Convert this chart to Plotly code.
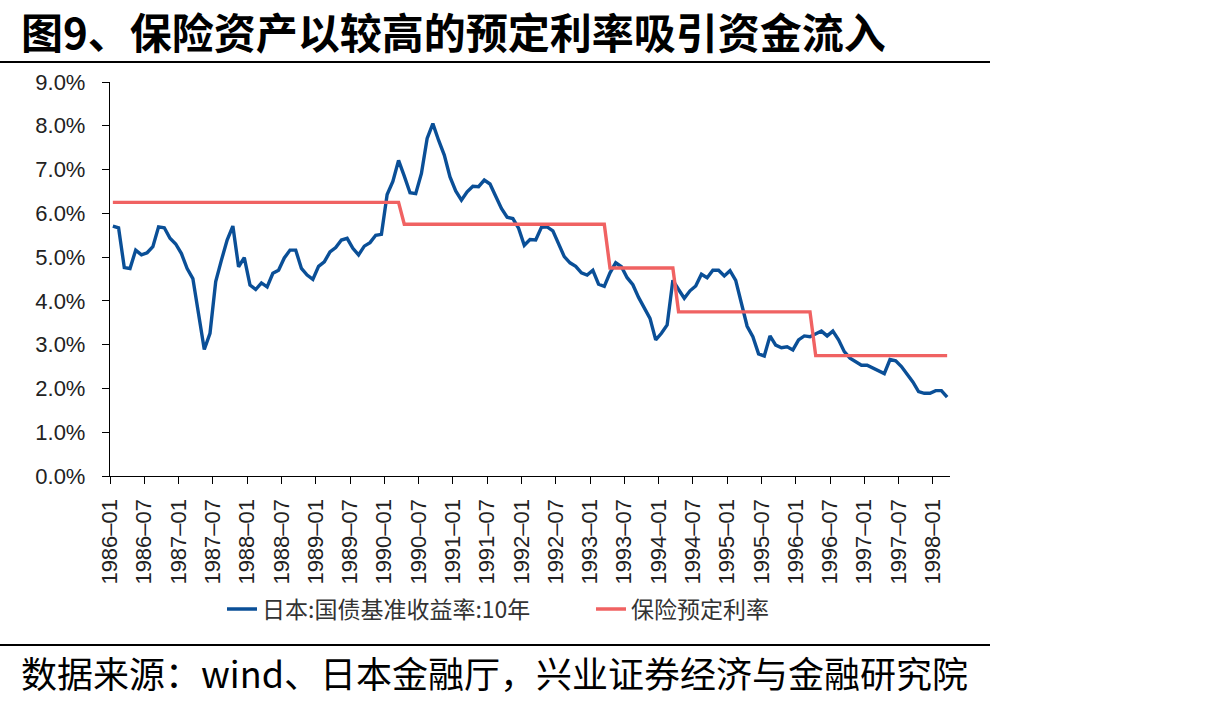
import numpy as np
import pandas as pd
import plotly.graph_objects as go

# ---------------- data ----------------
months = list(pd.period_range("1986-01", periods=147, freq="M").strftime("%Y–%m"))

yield_10y = [
    5.71, 5.67, 4.76, 4.74, 5.16, 5.05, 5.10, 5.24, 5.69, 5.67, 5.43, 5.30,
    5.08, 4.74, 4.51, 3.71, 2.89, 3.26, 4.44, 4.93, 5.39, 5.71, 4.78, 4.99,
    4.36, 4.26, 4.41, 4.32, 4.63, 4.70, 4.98, 5.16, 5.16, 4.74, 4.59, 4.49,
    4.79, 4.89, 5.12, 5.22, 5.39, 5.43, 5.20, 5.05, 5.25, 5.33, 5.50, 5.52,
    6.43, 6.73, 7.21, 6.85, 6.47, 6.45, 6.91, 7.71, 8.05, 7.67, 7.33, 6.83,
    6.51, 6.30, 6.49, 6.62, 6.61, 6.76, 6.67, 6.39, 6.11, 5.91, 5.88, 5.66,
    5.27, 5.40, 5.39, 5.68, 5.69, 5.60, 5.31, 5.01, 4.87, 4.79, 4.64, 4.59,
    4.70, 4.38, 4.33, 4.64, 4.87, 4.78, 4.53, 4.37, 4.08, 3.85, 3.60, 3.11,
    3.26, 3.45, 4.47, 4.26, 4.06, 4.23, 4.34, 4.61, 4.53, 4.70, 4.70, 4.57,
    4.69, 4.47, 3.98, 3.42, 3.18, 2.79, 2.74, 3.20, 2.99, 2.93, 2.95, 2.88,
    3.11, 3.20, 3.18, 3.24, 3.31, 3.20, 3.31, 3.11, 2.84, 2.69, 2.60, 2.53,
    2.53, 2.47, 2.40, 2.34, 2.66, 2.63, 2.50, 2.33, 2.15, 1.93, 1.89, 1.89,
    1.95, 1.95, 1.80,
]

assumed_rate = [
    6.25, 6.25, 6.25, 6.25, 6.25, 6.25, 6.25, 6.25, 6.25, 6.25, 6.25, 6.25,
    6.25, 6.25, 6.25, 6.25, 6.25, 6.25, 6.25, 6.25, 6.25, 6.25, 6.25, 6.25,
    6.25, 6.25, 6.25, 6.25, 6.25, 6.25, 6.25, 6.25, 6.25, 6.25, 6.25, 6.25,
    6.25, 6.25, 6.25, 6.25, 6.25, 6.25, 6.25, 6.25, 6.25, 6.25, 6.25, 6.25,
    6.25, 6.25, 6.25, 5.75, 5.75, 5.75, 5.75, 5.75, 5.75, 5.75, 5.75, 5.75,
    5.75, 5.75, 5.75, 5.75, 5.75, 5.75, 5.75, 5.75, 5.75, 5.75, 5.75, 5.75,
    5.75, 5.75, 5.75, 5.75, 5.75, 5.75, 5.75, 5.75, 5.75, 5.75, 5.75, 5.75,
    5.75, 5.75, 5.75, 4.75, 4.75, 4.75, 4.75, 4.75, 4.75, 4.75, 4.75, 4.75,
    4.75, 4.75, 4.75, 3.75, 3.75, 3.75, 3.75, 3.75, 3.75, 3.75, 3.75, 3.75,
    3.75, 3.75, 3.75, 3.75, 3.75, 3.75, 3.75, 3.75, 3.75, 3.75, 3.75, 3.75,
    3.75, 3.75, 3.75, 2.75, 2.75, 2.75, 2.75, 2.75, 2.75, 2.75, 2.75, 2.75,
    2.75, 2.75, 2.75, 2.75, 2.75, 2.75, 2.75, 2.75, 2.75, 2.75, 2.75, 2.75,
    2.75, 2.75, 2.75,
]

series_names = ["日本:国债基准收益率:10年", "保险预定利率"]
y_ticks = [0, 1, 2, 3, 4, 5, 6, 7, 8, 9]

title_text = "图9、保险资产以较高的预定利率吸引资金流入"
source_text = "数据来源：wind、日本金融厅，兴业证券经济与金融研究院"

# ---------------- layout helpers ----------------
W, H = 1205, 705
L, R, T, B = 110, 950, 82, 476


def px2x(px):
    return (px - L) / (R - L)


def px2y(py):
    return (B - py) / (B - T)


x_idx = np.arange(len(months))
tick_pos = list(x_idx[::6] - 0.5)
tick_txt = months[::6]

FONT = "Liberation Sans, Arial, Noto Sans CJK SC, sans-serif"
CJK = "Noto Sans CJK SC, Liberation Sans, sans-serif"

fig = go.Figure()
fig.add_trace(go.Scatter(
    x=x_idx, y=yield_10y, mode="lines", name=series_names[0],
    line=dict(color="#0A4F97", width=3.4),
))
fig.add_trace(go.Scatter(
    x=x_idx, y=assumed_rate, mode="lines", name=series_names[1],
    line=dict(color="#F06262", width=3.4),
))

fig.update_layout(
    width=W, height=H,
    margin=dict(l=L, r=W - R, t=T, b=H - B, pad=0),
    paper_bgcolor="white", plot_bgcolor="white",
    font=dict(family=FONT, size=22, color="#222222"),
    showlegend=True,
    legend=dict(
        orientation="h", x=px2x(222), y=px2y(609), xanchor="left", yanchor="middle",
        font=dict(family=CJK, size=23, color="#333333"),
        entrywidth=324, entrywidthmode="pixels",
        bgcolor="rgba(0,0,0,0)",
    ),
    xaxis=dict(
        range=[-0.5, len(months) - 0.5],
        tickmode="array", tickvals=tick_pos, ticktext=tick_txt,
        tickangle=-90, ticks="outside", ticklen=7, tickwidth=1.3, tickcolor="#000",
        ticklabelstandoff=6,
        showline=True, linecolor="#000", linewidth=1.3,
        showgrid=False, zeroline=False,
        tickfont=dict(family=FONT, size=22, color="#222222"),
    ),
    yaxis=dict(
        range=[0, 9],
        tickmode="array", tickvals=y_ticks,
        ticktext=[f"{v:.1f}%" for v in y_ticks],
        ticks="outside", ticklen=7, tickwidth=1.3, tickcolor="#000",
        ticklabelstandoff=12,
        showline=True, linecolor="#000", linewidth=1.3,
        showgrid=False, zeroline=False,
        tickfont=dict(family=FONT, size=22, color="#222222"),
    ),
    annotations=[
        dict(text=f"<b>{title_text}</b>", xref="paper", yref="paper",
             x=px2x(19), y=px2y(31), xanchor="left", yanchor="middle",
             showarrow=False, font=dict(family=CJK, size=42, color="#000")),
        dict(text=source_text, xref="paper", yref="paper",
             x=px2x(19), y=px2y(672), xanchor="left", yanchor="middle",
             showarrow=False, font=dict(family=CJK, size=36, color="#000")),
    ],
    shapes=[
        dict(type="line", xref="paper", yref="paper",
             x0=px2x(0), x1=px2x(990), y0=px2y(62), y1=px2y(62),
             line=dict(color="#000", width=2)),
        dict(type="line", xref="paper", yref="paper",
             x0=px2x(0), x1=px2x(990), y0=px2y(645), y1=px2y(645),
             line=dict(color="#000", width=2)),
    ],
)

fig.write_html("out.html")
